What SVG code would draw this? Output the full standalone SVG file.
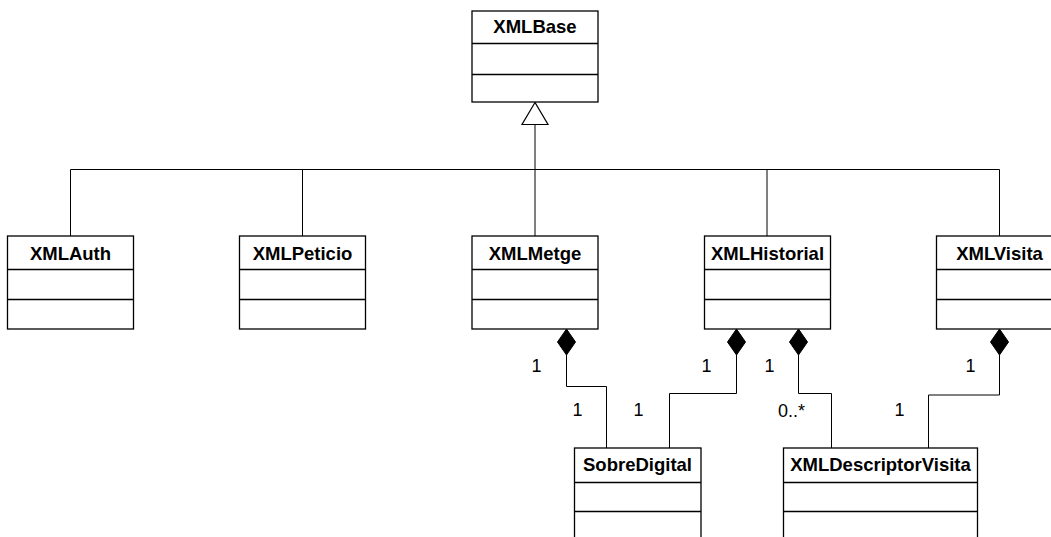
<svg xmlns="http://www.w3.org/2000/svg" width="1051" height="537" viewBox="0 0 1051 537">
<style>
.box{fill:#fff;stroke:#000;stroke-width:1.3}
.sep{stroke:#000;stroke-width:1.3}
.title{font-family:"Liberation Sans",Arial,sans-serif;font-weight:bold;font-size:18.5px;text-anchor:middle;fill:#000}
.lbl{font-family:"Liberation Sans",Arial,sans-serif;font-size:18px;fill:#000}
.conn{fill:none;stroke:#000;stroke-width:1}
.dia{fill:#000;stroke:#000;stroke-width:1}
</style>
<rect width="1051" height="537" fill="#fff"/>
<g id="connectors">
  <path class="conn" d="M535 124.5 V169.5 M70.5 169.5 H999.5 M70.5 169.5 V236 M302.5 169.5 V236 M535 169.5 V236 M767 169.5 V236 M999.5 169.5 V236"/>
  <polygon points="535,102.5 522,124.5 548,124.5" fill="#fff" stroke="#000" stroke-width="1.2"/>
  <path class="conn" d="M566.5 355 V386.5 H606.5 V448"/>
  <polygon class="dia" points="566.5,329 575.5,342 566.5,355 557.5,342"/>
  <path class="conn" d="M736.5 355 V393.5 H669.5 V448"/>
  <polygon class="dia" points="736.5,329 745.5,342 736.5,355 727.5,342"/>
  <path class="conn" d="M798.5 355 V393.5 H831.5 V448"/>
  <polygon class="dia" points="798.5,329 807.5,342 798.5,355 789.5,342"/>
  <path class="conn" d="M999.5 355 V395 H928.5 V448"/>
  <polygon class="dia" points="999.5,329 1008.5,342 999.5,355 990.5,342"/>
  <text class="lbl" x="531.5" y="372">1</text>
  <text class="lbl" x="572.5" y="416">1</text>
  <text class="lbl" x="633.5" y="416">1</text>
  <text class="lbl" x="701.5" y="372">1</text>
  <text class="lbl" x="764.5" y="372">1</text>
  <text class="lbl" x="778" y="417">0..*</text>
  <text class="lbl" x="894.5" y="416">1</text>
  <text class="lbl" x="965.5" y="372">1</text>
</g>
<g id="XMLBase">
  <rect class="box" x="472" y="11" width="126" height="91"/>
  <line class="sep" x1="472" y1="43.5" x2="598" y2="43.5"/>
  <line class="sep" x1="472" y1="74.5" x2="598" y2="74.5"/>
  <text class="title" x="535" y="33">XMLBase</text>
</g>
<g id="XMLAuth">
  <rect class="box" x="7.5" y="236" width="126" height="93"/>
  <line class="sep" x1="7.5" y1="269.5" x2="133.5" y2="269.5"/>
  <line class="sep" x1="7.5" y1="299.5" x2="133.5" y2="299.5"/>
  <text class="title" x="70.5" y="259.5">XMLAuth</text>
</g>
<g id="XMLPeticio">
  <rect class="box" x="239.5" y="236" width="126" height="93"/>
  <line class="sep" x1="239.5" y1="269.5" x2="365.5" y2="269.5"/>
  <line class="sep" x1="239.5" y1="299.5" x2="365.5" y2="299.5"/>
  <text class="title" x="302.5" y="259.5">XMLPeticio</text>
</g>
<g id="XMLMetge">
  <rect class="box" x="472" y="236" width="126" height="93"/>
  <line class="sep" x1="472" y1="269.5" x2="598" y2="269.5"/>
  <line class="sep" x1="472" y1="299.5" x2="598" y2="299.5"/>
  <text class="title" x="535" y="259.5">XMLMetge</text>
</g>
<g id="XMLHistorial">
  <rect class="box" x="704.5" y="236" width="126" height="93"/>
  <line class="sep" x1="704.5" y1="269.5" x2="830.5" y2="269.5"/>
  <line class="sep" x1="704.5" y1="299.5" x2="830.5" y2="299.5"/>
  <text class="title" x="767.5" y="259.5">XMLHistorial</text>
</g>
<g id="XMLVisita">
  <rect class="box" x="936.5" y="236" width="126" height="93"/>
  <line class="sep" x1="936.5" y1="269.5" x2="1062.5" y2="269.5"/>
  <line class="sep" x1="936.5" y1="299.5" x2="1062.5" y2="299.5"/>
  <text class="title" x="999.5" y="259.5">XMLVisita</text>
</g>
<g id="SobreDigital">
  <rect class="box" x="574.5" y="448" width="126.5" height="100"/>
  <line class="sep" x1="574.5" y1="482.5" x2="701" y2="482.5"/>
  <line class="sep" x1="574.5" y1="511.5" x2="701" y2="511.5"/>
  <text class="title" x="637.5" y="471">SobreDigital</text>
</g>
<g id="XMLDescriptorVisita">
  <rect class="box" x="783.5" y="448" width="194" height="100"/>
  <line class="sep" x1="783.5" y1="482.5" x2="977.5" y2="482.5"/>
  <line class="sep" x1="783.5" y1="511.5" x2="977.5" y2="511.5"/>
  <text class="title" x="880.5" y="471">XMLDescriptorVisita</text>
</g>
</svg>
